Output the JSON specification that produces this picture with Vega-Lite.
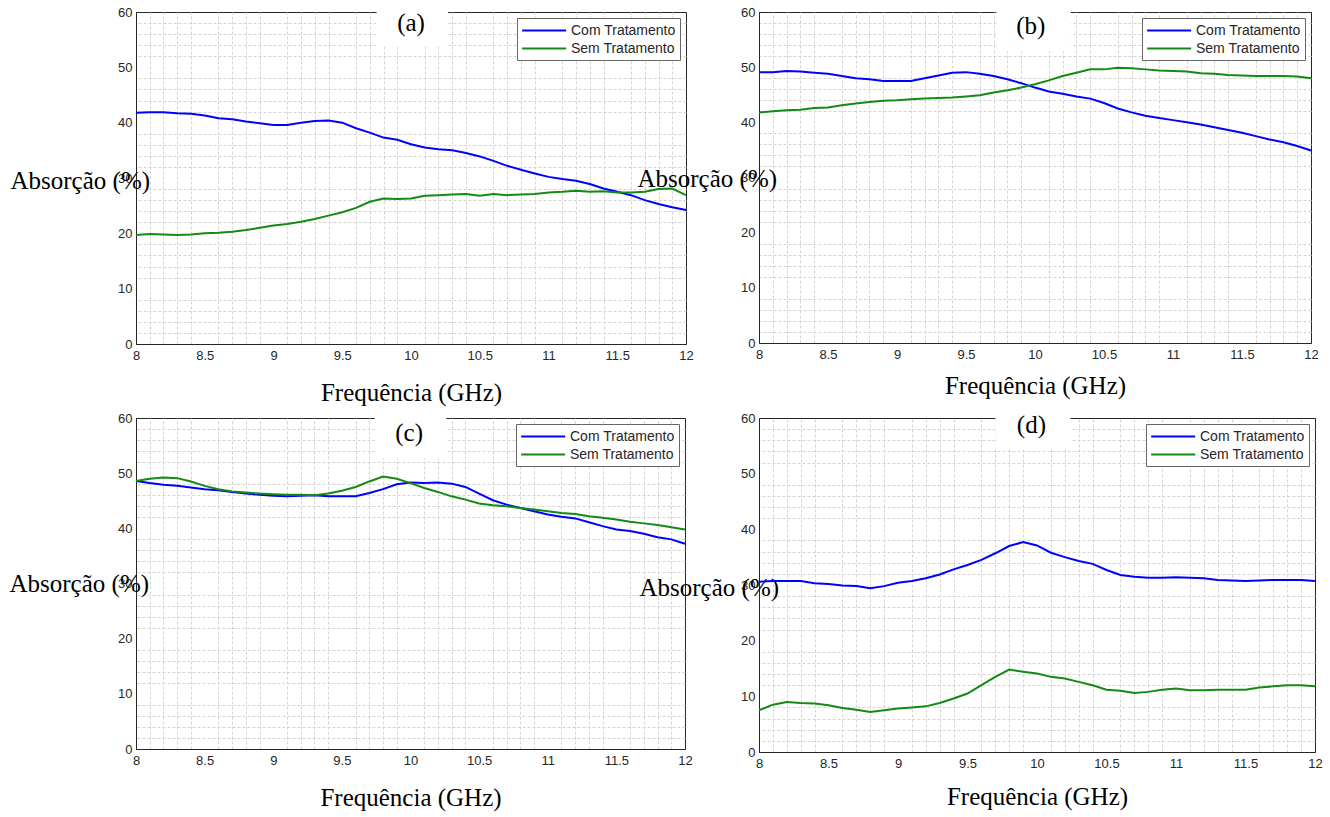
{
  "$schema": "https://vega.github.io/schema/vega-lite/v6.json",
  "background": "white",
  "padding": {"left": 8, "top": 5, "right": 5, "bottom": 5},
  "bounds": "flush",
  "columns": 2,
  "spacing": {"row": 74, "column": 73},
  "resolve": {"scale": {"color": "independent"}},
  "datasets": {
    "abs": [
      {"p":"a","f":8.0,"Com Tratamento":41.8,"Sem Tratamento":19.7},
      {"p":"a","f":8.1,"Com Tratamento":41.9,"Sem Tratamento":19.9},
      {"p":"a","f":8.2,"Com Tratamento":41.9,"Sem Tratamento":19.8},
      {"p":"a","f":8.3,"Com Tratamento":41.7,"Sem Tratamento":19.7},
      {"p":"a","f":8.4,"Com Tratamento":41.6,"Sem Tratamento":19.8},
      {"p":"a","f":8.5,"Com Tratamento":41.3,"Sem Tratamento":20.0},
      {"p":"a","f":8.6,"Com Tratamento":40.8,"Sem Tratamento":20.1},
      {"p":"a","f":8.7,"Com Tratamento":40.6,"Sem Tratamento":20.3},
      {"p":"a","f":8.8,"Com Tratamento":40.2,"Sem Tratamento":20.6},
      {"p":"a","f":8.9,"Com Tratamento":39.9,"Sem Tratamento":21.0},
      {"p":"a","f":9.0,"Com Tratamento":39.6,"Sem Tratamento":21.4},
      {"p":"a","f":9.1,"Com Tratamento":39.6,"Sem Tratamento":21.7},
      {"p":"a","f":9.2,"Com Tratamento":40.0,"Sem Tratamento":22.1},
      {"p":"a","f":9.3,"Com Tratamento":40.3,"Sem Tratamento":22.6},
      {"p":"a","f":9.4,"Com Tratamento":40.4,"Sem Tratamento":23.2},
      {"p":"a","f":9.5,"Com Tratamento":40.0,"Sem Tratamento":23.8},
      {"p":"a","f":9.6,"Com Tratamento":39.0,"Sem Tratamento":24.6},
      {"p":"a","f":9.7,"Com Tratamento":38.2,"Sem Tratamento":25.7},
      {"p":"a","f":9.8,"Com Tratamento":37.3,"Sem Tratamento":26.3},
      {"p":"a","f":9.9,"Com Tratamento":36.9,"Sem Tratamento":26.2},
      {"p":"a","f":10.0,"Com Tratamento":36.1,"Sem Tratamento":26.3},
      {"p":"a","f":10.1,"Com Tratamento":35.5,"Sem Tratamento":26.8},
      {"p":"a","f":10.2,"Com Tratamento":35.2,"Sem Tratamento":26.9},
      {"p":"a","f":10.3,"Com Tratamento":35.0,"Sem Tratamento":27.0},
      {"p":"a","f":10.4,"Com Tratamento":34.5,"Sem Tratamento":27.1},
      {"p":"a","f":10.5,"Com Tratamento":33.9,"Sem Tratamento":26.8},
      {"p":"a","f":10.6,"Com Tratamento":33.1,"Sem Tratamento":27.1},
      {"p":"a","f":10.7,"Com Tratamento":32.2,"Sem Tratamento":26.9},
      {"p":"a","f":10.8,"Com Tratamento":31.5,"Sem Tratamento":27.0},
      {"p":"a","f":10.9,"Com Tratamento":30.8,"Sem Tratamento":27.1},
      {"p":"a","f":11.0,"Com Tratamento":30.2,"Sem Tratamento":27.4},
      {"p":"a","f":11.1,"Com Tratamento":29.8,"Sem Tratamento":27.5},
      {"p":"a","f":11.2,"Com Tratamento":29.5,"Sem Tratamento":27.7},
      {"p":"a","f":11.3,"Com Tratamento":28.9,"Sem Tratamento":27.5},
      {"p":"a","f":11.4,"Com Tratamento":28.1,"Sem Tratamento":27.6},
      {"p":"a","f":11.5,"Com Tratamento":27.5,"Sem Tratamento":27.4},
      {"p":"a","f":11.6,"Com Tratamento":26.9,"Sem Tratamento":27.4},
      {"p":"a","f":11.7,"Com Tratamento":26.0,"Sem Tratamento":27.5},
      {"p":"a","f":11.8,"Com Tratamento":25.3,"Sem Tratamento":28.0},
      {"p":"a","f":11.9,"Com Tratamento":24.7,"Sem Tratamento":28.1},
      {"p":"a","f":12.0,"Com Tratamento":24.2,"Sem Tratamento":26.9},
      {"p":"b","f":8.0,"Com Tratamento":49.1,"Sem Tratamento":41.8},
      {"p":"b","f":8.1,"Com Tratamento":49.1,"Sem Tratamento":42.0},
      {"p":"b","f":8.2,"Com Tratamento":49.3,"Sem Tratamento":42.2},
      {"p":"b","f":8.3,"Com Tratamento":49.2,"Sem Tratamento":42.3},
      {"p":"b","f":8.4,"Com Tratamento":49.0,"Sem Tratamento":42.6},
      {"p":"b","f":8.5,"Com Tratamento":48.8,"Sem Tratamento":42.7},
      {"p":"b","f":8.6,"Com Tratamento":48.4,"Sem Tratamento":43.1},
      {"p":"b","f":8.7,"Com Tratamento":48.0,"Sem Tratamento":43.4},
      {"p":"b","f":8.8,"Com Tratamento":47.8,"Sem Tratamento":43.7},
      {"p":"b","f":8.9,"Com Tratamento":47.5,"Sem Tratamento":43.9},
      {"p":"b","f":9.0,"Com Tratamento":47.5,"Sem Tratamento":44.0},
      {"p":"b","f":9.1,"Com Tratamento":47.5,"Sem Tratamento":44.2},
      {"p":"b","f":9.2,"Com Tratamento":48.0,"Sem Tratamento":44.3},
      {"p":"b","f":9.3,"Com Tratamento":48.5,"Sem Tratamento":44.4},
      {"p":"b","f":9.4,"Com Tratamento":49.0,"Sem Tratamento":44.5},
      {"p":"b","f":9.5,"Com Tratamento":49.1,"Sem Tratamento":44.7},
      {"p":"b","f":9.6,"Com Tratamento":48.8,"Sem Tratamento":44.9},
      {"p":"b","f":9.7,"Com Tratamento":48.4,"Sem Tratamento":45.4},
      {"p":"b","f":9.8,"Com Tratamento":47.8,"Sem Tratamento":45.8},
      {"p":"b","f":9.9,"Com Tratamento":47.1,"Sem Tratamento":46.3},
      {"p":"b","f":10.0,"Com Tratamento":46.3,"Sem Tratamento":46.9},
      {"p":"b","f":10.1,"Com Tratamento":45.6,"Sem Tratamento":47.6},
      {"p":"b","f":10.2,"Com Tratamento":45.2,"Sem Tratamento":48.4},
      {"p":"b","f":10.3,"Com Tratamento":44.7,"Sem Tratamento":49.0},
      {"p":"b","f":10.4,"Com Tratamento":44.3,"Sem Tratamento":49.6},
      {"p":"b","f":10.5,"Com Tratamento":43.5,"Sem Tratamento":49.6},
      {"p":"b","f":10.6,"Com Tratamento":42.5,"Sem Tratamento":49.9},
      {"p":"b","f":10.7,"Com Tratamento":41.8,"Sem Tratamento":49.8},
      {"p":"b","f":10.8,"Com Tratamento":41.2,"Sem Tratamento":49.6},
      {"p":"b","f":10.9,"Com Tratamento":40.8,"Sem Tratamento":49.4},
      {"p":"b","f":11.0,"Com Tratamento":40.4,"Sem Tratamento":49.3},
      {"p":"b","f":11.1,"Com Tratamento":40.0,"Sem Tratamento":49.2},
      {"p":"b","f":11.2,"Com Tratamento":39.6,"Sem Tratamento":48.9},
      {"p":"b","f":11.3,"Com Tratamento":39.1,"Sem Tratamento":48.8},
      {"p":"b","f":11.4,"Com Tratamento":38.6,"Sem Tratamento":48.6},
      {"p":"b","f":11.5,"Com Tratamento":38.1,"Sem Tratamento":48.5},
      {"p":"b","f":11.6,"Com Tratamento":37.5,"Sem Tratamento":48.4},
      {"p":"b","f":11.7,"Com Tratamento":36.9,"Sem Tratamento":48.4},
      {"p":"b","f":11.8,"Com Tratamento":36.4,"Sem Tratamento":48.4},
      {"p":"b","f":11.9,"Com Tratamento":35.7,"Sem Tratamento":48.3},
      {"p":"b","f":12.0,"Com Tratamento":34.9,"Sem Tratamento":48.0},
      {"p":"c","f":8.0,"Com Tratamento":48.6,"Sem Tratamento":48.6},
      {"p":"c","f":8.1,"Com Tratamento":48.2,"Sem Tratamento":49.0},
      {"p":"c","f":8.2,"Com Tratamento":47.9,"Sem Tratamento":49.2},
      {"p":"c","f":8.3,"Com Tratamento":47.7,"Sem Tratamento":49.1},
      {"p":"c","f":8.4,"Com Tratamento":47.4,"Sem Tratamento":48.5},
      {"p":"c","f":8.5,"Com Tratamento":47.1,"Sem Tratamento":47.7},
      {"p":"c","f":8.6,"Com Tratamento":46.9,"Sem Tratamento":47.1},
      {"p":"c","f":8.7,"Com Tratamento":46.6,"Sem Tratamento":46.7},
      {"p":"c","f":8.8,"Com Tratamento":46.3,"Sem Tratamento":46.5},
      {"p":"c","f":8.9,"Com Tratamento":46.1,"Sem Tratamento":46.3},
      {"p":"c","f":9.0,"Com Tratamento":45.9,"Sem Tratamento":46.2},
      {"p":"c","f":9.1,"Com Tratamento":45.8,"Sem Tratamento":46.1},
      {"p":"c","f":9.2,"Com Tratamento":45.9,"Sem Tratamento":46.1},
      {"p":"c","f":9.3,"Com Tratamento":46.0,"Sem Tratamento":46.0},
      {"p":"c","f":9.4,"Com Tratamento":45.8,"Sem Tratamento":46.3},
      {"p":"c","f":9.5,"Com Tratamento":45.8,"Sem Tratamento":46.8},
      {"p":"c","f":9.6,"Com Tratamento":45.8,"Sem Tratamento":47.5},
      {"p":"c","f":9.7,"Com Tratamento":46.4,"Sem Tratamento":48.5},
      {"p":"c","f":9.8,"Com Tratamento":47.1,"Sem Tratamento":49.4},
      {"p":"c","f":9.9,"Com Tratamento":48.0,"Sem Tratamento":49.0},
      {"p":"c","f":10.0,"Com Tratamento":48.3,"Sem Tratamento":48.2},
      {"p":"c","f":10.1,"Com Tratamento":48.2,"Sem Tratamento":47.3},
      {"p":"c","f":10.2,"Com Tratamento":48.3,"Sem Tratamento":46.6},
      {"p":"c","f":10.3,"Com Tratamento":48.1,"Sem Tratamento":45.8},
      {"p":"c","f":10.4,"Com Tratamento":47.5,"Sem Tratamento":45.2},
      {"p":"c","f":10.5,"Com Tratamento":46.3,"Sem Tratamento":44.5},
      {"p":"c","f":10.6,"Com Tratamento":45.1,"Sem Tratamento":44.2},
      {"p":"c","f":10.7,"Com Tratamento":44.3,"Sem Tratamento":44.0},
      {"p":"c","f":10.8,"Com Tratamento":43.7,"Sem Tratamento":43.7},
      {"p":"c","f":10.9,"Com Tratamento":43.1,"Sem Tratamento":43.4},
      {"p":"c","f":11.0,"Com Tratamento":42.5,"Sem Tratamento":43.1},
      {"p":"c","f":11.1,"Com Tratamento":42.1,"Sem Tratamento":42.8},
      {"p":"c","f":11.2,"Com Tratamento":41.8,"Sem Tratamento":42.6},
      {"p":"c","f":11.3,"Com Tratamento":41.1,"Sem Tratamento":42.2},
      {"p":"c","f":11.4,"Com Tratamento":40.4,"Sem Tratamento":41.9},
      {"p":"c","f":11.5,"Com Tratamento":39.8,"Sem Tratamento":41.6},
      {"p":"c","f":11.6,"Com Tratamento":39.5,"Sem Tratamento":41.2},
      {"p":"c","f":11.7,"Com Tratamento":39.0,"Sem Tratamento":40.9},
      {"p":"c","f":11.8,"Com Tratamento":38.4,"Sem Tratamento":40.6},
      {"p":"c","f":11.9,"Com Tratamento":38.0,"Sem Tratamento":40.2},
      {"p":"c","f":12.0,"Com Tratamento":37.2,"Sem Tratamento":39.8},
      {"p":"d","f":8.0,"Com Tratamento":30.6,"Sem Tratamento":7.5},
      {"p":"d","f":8.1,"Com Tratamento":30.7,"Sem Tratamento":8.5},
      {"p":"d","f":8.2,"Com Tratamento":30.7,"Sem Tratamento":9.0},
      {"p":"d","f":8.3,"Com Tratamento":30.7,"Sem Tratamento":8.8},
      {"p":"d","f":8.4,"Com Tratamento":30.3,"Sem Tratamento":8.7},
      {"p":"d","f":8.5,"Com Tratamento":30.2,"Sem Tratamento":8.4},
      {"p":"d","f":8.6,"Com Tratamento":29.9,"Sem Tratamento":7.9},
      {"p":"d","f":8.7,"Com Tratamento":29.8,"Sem Tratamento":7.6},
      {"p":"d","f":8.8,"Com Tratamento":29.4,"Sem Tratamento":7.2},
      {"p":"d","f":8.9,"Com Tratamento":29.8,"Sem Tratamento":7.5},
      {"p":"d","f":9.0,"Com Tratamento":30.4,"Sem Tratamento":7.8},
      {"p":"d","f":9.1,"Com Tratamento":30.7,"Sem Tratamento":8.0},
      {"p":"d","f":9.2,"Com Tratamento":31.2,"Sem Tratamento":8.2},
      {"p":"d","f":9.3,"Com Tratamento":31.9,"Sem Tratamento":8.8},
      {"p":"d","f":9.4,"Com Tratamento":32.8,"Sem Tratamento":9.6},
      {"p":"d","f":9.5,"Com Tratamento":33.6,"Sem Tratamento":10.5},
      {"p":"d","f":9.6,"Com Tratamento":34.5,"Sem Tratamento":12.0},
      {"p":"d","f":9.7,"Com Tratamento":35.7,"Sem Tratamento":13.5},
      {"p":"d","f":9.8,"Com Tratamento":37.0,"Sem Tratamento":14.8},
      {"p":"d","f":9.9,"Com Tratamento":37.7,"Sem Tratamento":14.4},
      {"p":"d","f":10.0,"Com Tratamento":37.1,"Sem Tratamento":14.1},
      {"p":"d","f":10.1,"Com Tratamento":35.8,"Sem Tratamento":13.5},
      {"p":"d","f":10.2,"Com Tratamento":35.0,"Sem Tratamento":13.2},
      {"p":"d","f":10.3,"Com Tratamento":34.3,"Sem Tratamento":12.6},
      {"p":"d","f":10.4,"Com Tratamento":33.8,"Sem Tratamento":12.0},
      {"p":"d","f":10.5,"Com Tratamento":32.7,"Sem Tratamento":11.2},
      {"p":"d","f":10.6,"Com Tratamento":31.8,"Sem Tratamento":11.0},
      {"p":"d","f":10.7,"Com Tratamento":31.5,"Sem Tratamento":10.6},
      {"p":"d","f":10.8,"Com Tratamento":31.3,"Sem Tratamento":10.8},
      {"p":"d","f":10.9,"Com Tratamento":31.3,"Sem Tratamento":11.2},
      {"p":"d","f":11.0,"Com Tratamento":31.4,"Sem Tratamento":11.4},
      {"p":"d","f":11.1,"Com Tratamento":31.3,"Sem Tratamento":11.1},
      {"p":"d","f":11.2,"Com Tratamento":31.2,"Sem Tratamento":11.1},
      {"p":"d","f":11.3,"Com Tratamento":30.9,"Sem Tratamento":11.2},
      {"p":"d","f":11.4,"Com Tratamento":30.8,"Sem Tratamento":11.2},
      {"p":"d","f":11.5,"Com Tratamento":30.7,"Sem Tratamento":11.2},
      {"p":"d","f":11.6,"Com Tratamento":30.8,"Sem Tratamento":11.6},
      {"p":"d","f":11.7,"Com Tratamento":30.9,"Sem Tratamento":11.8},
      {"p":"d","f":11.8,"Com Tratamento":30.9,"Sem Tratamento":12.0},
      {"p":"d","f":11.9,"Com Tratamento":30.9,"Sem Tratamento":12.0},
      {"p":"d","f":12.0,"Com Tratamento":30.7,"Sem Tratamento":11.8}
    ]
  },
  "concat": [
    {
      "width": 550, "height": 332,
      "resolve": {"axis": {"x": "independent", "y": "independent"}},
      "layer": [
        {"data": {"values": [{}]}, "mark": {"type": "rect", "fill": "white"},
         "encoding": {
           "x": {"datum": 9.75, "type": "quantitative", "axis": {"orient": "top", "title": null, "labels": false, "domain": false, "ticks": false, "gridDash": [3, 2], "gridColor": "#d4d4d4", "values": [8.1,8.2,8.3,8.4,8.6,8.7,8.8,8.9,9.1,9.2,9.3,9.4,9.6,9.7,9.8,9.9,10.1,10.2,10.3,10.4,10.6,10.7,10.8,10.9,11.1,11.2,11.3,11.4,11.6,11.7,11.8,11.9]}},
           "x2": {"datum": 10.27},
           "y": {"datum": 53.7, "type": "quantitative", "axis": {"orient": "right", "title": null, "labels": false, "domain": false, "ticks": false, "gridDash": [3, 2], "gridColor": "#d4d4d4", "values": [2,4,6,8,12,14,16,18,22,24,26,28,32,34,36,38,42,44,46,48,52,54,56,58]}},
           "y2": {"datum": 60}}},
        {
          "data": {"name": "abs"},
          "transform": [{"filter": "datum.p === 'a'"}, {"fold": ["Com Tratamento", "Sem Tratamento"], "as": ["serie", "v"]}],
          "mark": {"type": "line", "strokeWidth": 2},
          "encoding": {
            "x": {"field": "f", "type": "quantitative", "scale": {"domain": [8, 12], "nice": false, "zero": false},
              "axis": {"orient": "bottom", "title": "Frequência (GHz)", "titleY": 48, "titleBaseline": "middle", "format": "~g", "values": [8,8.5,9,9.5,10,10.5,11,11.5,12]}},
            "y": {"field": "v", "type": "quantitative", "scale": {"domain": [0, 60], "nice": false},
              "axis": {"orient": "left", "title": "Absorção (%)", "titleAngle": 0, "titleAlign": "left", "titleBaseline": "middle", "titleX": -126, "titleY": 168, "values": [0,10,20,30,40,50,60]}},
            "color": {"field": "serie", "type": "nominal", "scale": {"domain": ["Com Tratamento", "Sem Tratamento"], "range": ["#0000ff", "#138a13"]}, "legend": {"title": null}}
          }
        },
        {"data": {"values": [{}]}, "mark": {"type": "text", "font": "Liberation Serif", "fontSize": 25, "color": "black", "align": "center", "baseline": "middle", "text": "(a)"},
         "encoding": {"x": {"datum": 10.0, "type": "quantitative", "axis": null}, "y": {"datum": 58.0, "type": "quantitative", "axis": null}}}
      ]
    },
    {
      "width": 552, "height": 331,
      "resolve": {"axis": {"x": "independent", "y": "independent"}},
      "layer": [
        {"data": {"values": [{}]}, "mark": {"type": "rect", "fill": "white"},
         "encoding": {
           "x": {"datum": 9.72, "type": "quantitative", "axis": {"orient": "top", "title": null, "labels": false, "domain": false, "ticks": false, "gridDash": [3, 2], "gridColor": "#d4d4d4", "values": [8.1,8.2,8.3,8.4,8.6,8.7,8.8,8.9,9.1,9.2,9.3,9.4,9.6,9.7,9.8,9.9,10.1,10.2,10.3,10.4,10.6,10.7,10.8,10.9,11.1,11.2,11.3,11.4,11.6,11.7,11.8,11.9]}},
           "x2": {"datum": 10.26},
           "y": {"datum": 52.9, "type": "quantitative", "axis": {"orient": "right", "title": null, "labels": false, "domain": false, "ticks": false, "gridDash": [3, 2], "gridColor": "#d4d4d4", "values": [2,4,6,8,12,14,16,18,22,24,26,28,32,34,36,38,42,44,46,48,52,54,56,58]}},
           "y2": {"datum": 60}}},
        {
          "data": {"name": "abs"},
          "transform": [{"filter": "datum.p === 'b'"}, {"fold": ["Com Tratamento", "Sem Tratamento"], "as": ["serie", "v"]}],
          "mark": {"type": "line", "strokeWidth": 2},
          "encoding": {
            "x": {"field": "f", "type": "quantitative", "scale": {"domain": [8, 12], "nice": false, "zero": false},
              "axis": {"orient": "bottom", "title": "Frequência (GHz)", "titleY": 42, "titleBaseline": "middle", "format": "~g", "values": [8,8.5,9,9.5,10,10.5,11,11.5,12]}},
            "y": {"field": "v", "type": "quantitative", "scale": {"domain": [0, 60], "nice": false},
              "axis": {"orient": "left", "title": "Absorção (%)", "titleAngle": 0, "titleAlign": "left", "titleBaseline": "middle", "titleX": -122, "titleY": 166, "values": [0,10,20,30,40,50,60]}},
            "color": {"field": "serie", "type": "nominal", "scale": {"domain": ["Com Tratamento", "Sem Tratamento"], "range": ["#0000ff", "#138a13"]}, "legend": {"title": null}}
          }
        },
        {"data": {"values": [{}]}, "mark": {"type": "text", "font": "Liberation Serif", "fontSize": 25, "color": "black", "align": "center", "baseline": "middle", "text": "(b)"},
         "encoding": {"x": {"datum": 9.97, "type": "quantitative", "axis": null}, "y": {"datum": 57.4, "type": "quantitative", "axis": null}}}
      ]
    },
    {
      "width": 549, "height": 331,
      "resolve": {"axis": {"x": "independent", "y": "independent"}},
      "layer": [
        {"data": {"values": [{}]}, "mark": {"type": "rect", "fill": "white"},
         "encoding": {
           "x": {"datum": 9.74, "type": "quantitative", "axis": {"orient": "top", "title": null, "labels": false, "domain": false, "ticks": false, "gridDash": [3, 2], "gridColor": "#d4d4d4", "values": [8.1,8.2,8.3,8.4,8.6,8.7,8.8,8.9,9.1,9.2,9.3,9.4,9.6,9.7,9.8,9.9,10.1,10.2,10.3,10.4,10.6,10.7,10.8,10.9,11.1,11.2,11.3,11.4,11.6,11.7,11.8,11.9]}},
           "x2": {"datum": 10.26},
           "y": {"datum": 52.75, "type": "quantitative", "axis": {"orient": "right", "title": null, "labels": false, "domain": false, "ticks": false, "gridDash": [3, 2], "gridColor": "#d4d4d4", "values": [2,4,6,8,12,14,16,18,22,24,26,28,32,34,36,38,42,44,46,48,52,54,56,58]}},
           "y2": {"datum": 60}}},
        {
          "data": {"name": "abs"},
          "transform": [{"filter": "datum.p === 'c'"}, {"fold": ["Com Tratamento", "Sem Tratamento"], "as": ["serie", "v"]}],
          "mark": {"type": "line", "strokeWidth": 2},
          "encoding": {
            "x": {"field": "f", "type": "quantitative", "scale": {"domain": [8, 12], "nice": false, "zero": false},
              "axis": {"orient": "bottom", "title": "Frequência (GHz)", "titleY": 48, "titleBaseline": "middle", "format": "~g", "values": [8,8.5,9,9.5,10,10.5,11,11.5,12]}},
            "y": {"field": "v", "type": "quantitative", "scale": {"domain": [0, 60], "nice": false},
              "axis": {"orient": "left", "title": "Absorção (%)", "titleAngle": 0, "titleAlign": "left", "titleBaseline": "middle", "titleX": -127, "titleY": 165, "values": [0,10,20,30,40,50,60]}},
            "color": {"field": "serie", "type": "nominal", "scale": {"domain": ["Com Tratamento", "Sem Tratamento"], "range": ["#0000ff", "#138a13"]}, "legend": {"title": null}}
          }
        },
        {"data": {"values": [{}]}, "mark": {"type": "text", "font": "Liberation Serif", "fontSize": 25, "color": "black", "align": "center", "baseline": "middle", "text": "(c)"},
         "encoding": {"x": {"datum": 9.99, "type": "quantitative", "axis": null}, "y": {"datum": 57.3, "type": "quantitative", "axis": null}}}
      ]
    },
    {
      "width": 556, "height": 334,
      "resolve": {"axis": {"x": "independent", "y": "independent"}},
      "layer": [
        {"data": {"values": [{}]}, "mark": {"type": "rect", "fill": "white"},
         "encoding": {
           "x": {"datum": 9.7, "type": "quantitative", "axis": {"orient": "top", "title": null, "labels": false, "domain": false, "ticks": false, "gridDash": [3, 2], "gridColor": "#d4d4d4", "values": [8.1,8.2,8.3,8.4,8.6,8.7,8.8,8.9,9.1,9.2,9.3,9.4,9.6,9.7,9.8,9.9,10.1,10.2,10.3,10.4,10.6,10.7,10.8,10.9,11.1,11.2,11.3,11.4,11.6,11.7,11.8,11.9]}},
           "x2": {"datum": 10.24},
           "y": {"datum": 54.5, "type": "quantitative", "axis": {"orient": "right", "title": null, "labels": false, "domain": false, "ticks": false, "gridDash": [3, 2], "gridColor": "#d4d4d4", "values": [2,4,6,8,12,14,16,18,22,24,26,28,32,34,36,38,42,44,46,48,52,54,56,58]}},
           "y2": {"datum": 60}}},
        {
          "data": {"name": "abs"},
          "transform": [{"filter": "datum.p === 'd'"}, {"fold": ["Com Tratamento", "Sem Tratamento"], "as": ["serie", "v"]}],
          "mark": {"type": "line", "strokeWidth": 2},
          "encoding": {
            "x": {"field": "f", "type": "quantitative", "scale": {"domain": [8, 12], "nice": false, "zero": false},
              "axis": {"orient": "bottom", "title": "Frequência (GHz)", "titleY": 44, "titleBaseline": "middle", "format": "~g", "values": [8,8.5,9,9.5,10,10.5,11,11.5,12]}},
            "y": {"field": "v", "type": "quantitative", "scale": {"domain": [0, 60], "nice": false},
              "axis": {"orient": "left", "title": "Absorção (%)", "titleAngle": 0, "titleAlign": "left", "titleBaseline": "middle", "titleX": -120, "titleY": 169, "values": [0,10,20,30,40,50,60]}},
            "color": {"field": "serie", "type": "nominal", "scale": {"domain": ["Com Tratamento", "Sem Tratamento"], "range": ["#0000ff", "#138a13"]}, "legend": {"title": null}}
          }
        },
        {"data": {"values": [{}]}, "mark": {"type": "text", "font": "Liberation Serif", "fontSize": 25, "color": "black", "align": "center", "baseline": "middle", "text": "(d)"},
         "encoding": {"x": {"datum": 9.96, "type": "quantitative", "axis": null}, "y": {"datum": 58.7, "type": "quantitative", "axis": null}}}
      ]
    }
  ],
  "config": {
    "view": {"stroke": "#262626", "strokeWidth": 1},
    "axis": {"grid": true, "domainColor": "#262626", "ticks": false, "tickSize": 0, "labelFont": "Liberation Sans", "labelFontSize": 13, "labelColor": "#262626",
      "titleFont": "Liberation Serif", "titleFontSize": 25, "titleFontWeight": "normal", "titleColor": "black",
      "labelFlush": false, "labelOverlap": false, "gridColor": "#767676", "gridOpacity": 1, "gridWidth": 1},
    "axisX": {"labelPadding": 5},
    "axisY": {"labelPadding": 4},
    "legend": {"orient": "top-right", "offset": 6, "padding": 4, "strokeColor": "#666666", "fillColor": "white",
      "labelFont": "Liberation Sans", "labelFontSize": 14, "labelColor": "#262626",
      "symbolType": "M-1,0H5", "symbolSize": 215, "symbolStrokeWidth": 2, "labelOffset": 33, "rowPadding": 2, "cornerRadius": 0}
  }
}
